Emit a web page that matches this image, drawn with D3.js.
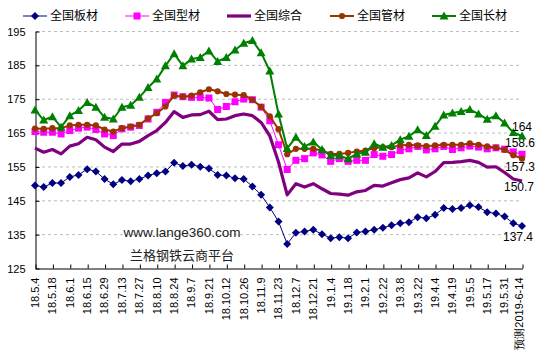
<html lang="zh">
<head>
<meta charset="utf-8">
<script src="https://cdn.jsdelivr.net/npm/d3@7"></script>
<style>
body{margin:0;background:#fff;}
#chart text{font-family:"Liberation Sans",Arial,sans-serif;}
</style>
</head>
<body>
<div id="chart"></div>
<script>
// categories (weekly), every 2nd one is labelled
const cats=["18.5.4","18.5.11","18.5.18","18.5.25","18.6.1","18.6.8","18.6.15","18.6.22","18.6.29","18.7.6",
"18.7.13","18.7.20","18.7.27","18.8.3","18.8.10","18.8.17","18.8.24","18.8.31","18.9.7","18.9.14",
"18.9.21","18.9.29","18.10.12","18.10.19","18.10.26","18.11.2","18.11.9","18.11.16","18.11.23","18.11.30",
"18.12.7","18.12.14","18.12.21","18.12.28","19.1.4","19.1.11","19.1.18","19.1.25","19.2.1","19.2.15",
"19.2.22","19.3.1","19.3.8","19.3.15","19.3.22","19.3.29","19.4.4","19.4.12","19.4.19","19.4.26",
"19.5.5","19.5.10","19.5.17","19.5.24","19.5.31","19.6.6","预测2019-6-14"]

const banCai=[149.4,148.9,150.1,150.1,151.9,152.5,154.2,153.5,151.3,149.7,151.0,150.6,151.3,152.3,153.0,153.5,156.1,155.1,155.5,154.9,154.4,152.5,152.3,151.5,151.3,149.1,146.6,142.9,138.7,132.1,135.4,135.8,136.3,135.0,133.8,134.1,133.8,135.5,135.8,136.3,136.9,137.6,138.2,138.5,140.0,139.7,140.7,142.7,142.4,142.7,143.5,143.0,141.5,141.1,140.2,138.2,137.4]
const xingCai=[165.3,165.1,165.1,164.6,165.6,166.3,166.6,165.9,164.6,164.1,166.1,166.6,167.1,169.0,171.0,173.9,176.1,175.6,175.4,175.4,175.2,171.8,172.7,174.1,174.9,174.7,172.5,168.5,161.4,154.1,156.8,157.3,159.0,158.4,156.5,157.3,156.5,156.8,156.8,158.5,158.0,158.5,159.7,160.2,160.9,159.9,160.2,160.9,160.0,160.5,161.0,160.7,160.2,160.5,160.1,159.3,158.6]
const zongHe=[160.4,159.2,160.0,158.7,161.0,161.7,163.6,162.9,160.7,159.4,161.6,161.6,162.4,164.1,165.6,168.0,171.2,169.5,170.2,170.3,171.3,168.8,169.0,170.0,170.5,170.0,168.0,164.0,156.3,146.6,149.9,148.9,149.9,148.4,147.0,146.8,146.5,147.5,147.9,149.4,149.2,150.2,151.1,151.6,153.1,151.9,153.5,156.1,156.2,156.4,156.8,156.2,154.8,154.9,153.2,151.3,150.7]
const guanCai=[166.2,166.1,166.3,166.3,167.1,167.3,167.3,167.1,165.9,165.3,166.3,166.8,167.3,169.2,170.7,172.7,175.9,175.6,175.9,176.9,177.8,177.2,176.4,176.2,176.1,174.7,172.6,169.8,166.0,158.6,160.2,160.2,160.2,159.7,158.7,158.7,159.0,159.4,159.7,160.4,160.7,160.7,161.2,161.4,161.2,161.0,161.2,161.4,161.4,161.4,161.8,161.4,160.9,160.6,159.9,158.3,157.3]
const changCai=[171.7,168.7,169.7,166.6,170.0,171.5,173.9,172.5,169.5,169.0,172.5,173.1,175.4,178.3,180.8,184.7,188.3,184.7,186.7,187.2,189.1,186.0,187.2,189.4,191.4,192.2,188.6,183.2,170.5,160.3,163.6,160.9,162.2,160.0,158.2,158.2,157.3,158.7,159.2,161.7,160.7,161.2,162.9,163.9,165.8,164.1,166.9,170.2,170.8,171.2,171.8,170.5,168.9,170.0,167.8,165.0,164.0]

const yTicks=[125,135,145,155,165,175,185,195]

const series=[
 {name:"全国板材",values:banCai,color:"#000080",width:1,marker:"diamond",lab:"137.4",lx:503,ly:237},
 {name:"全国型材",values:xingCai,color:"#ff00ff",width:1,marker:"square",lab:"158.6",lx:505,ly:143},
 {name:"全国综合",values:zongHe,color:"#800080",width:3.2,marker:null,lab:"150.7",lx:504,ly:187},
 {name:"全国管材",values:guanCai,color:"#993300",width:2,marker:"circle",lab:"157.3",lx:505,ly:167},
 {name:"全国长材",values:changCai,color:"#008000",width:2,marker:"triangle",lab:"164",lx:512,ly:127}
]

const W=543,H=361
const svg=d3.select("#chart").append("svg").attr("width",W).attr("height",H)

const x=d3.scalePoint().domain(cats).range([35,522])
const y=d3.scaleLinear().domain([125,195]).range([268,31])

// grid
svg.append("g").selectAll("line").data(yTicks.slice(1)).join("line")
 .attr("x1",36).attr("x2",522).attr("y1",d=>y(d)+0.5).attr("y2",d=>y(d)+0.5)
 .style("stroke","#bdbdbd").style("stroke-dasharray","3,3")

// axes
const yAx=svg.append("g").attr("transform","translate(35.5,0.5)")
 .call(d3.axisLeft(y).tickValues(yTicks).tickSize(-4).tickSizeOuter(0).tickPadding(10))
yAx.selectAll("text").style("font-size","11px").style("fill","#000")
yAx.selectAll("line,path").style("stroke","#000")

const xTickCats=cats.filter((d,i)=>i%2==0)
const xAx=svg.append("g").attr("transform","translate(0.5,268.5)")
 .call(d3.axisBottom(x).tickValues(xTickCats).tickSize(-4).tickSizeOuter(0))
xAx.selectAll("line,path").style("stroke","#000")
xAx.selectAll("text")
 .attr("transform","rotate(-90)").attr("x",-9).attr("y",d=>d==cats[cats.length-1]?-4:-1).attr("dy","0.35em")
 .style("text-anchor","end").style("font-size","11px").style("fill","#000")

// watermark
svg.append("text").attr("x",182).attr("y",237).attr("text-anchor","middle")
 .style("font-size","13.5px").style("fill","#222").text("www.lange360.com")
svg.append("text").attr("x",182).attr("y",260).attr("text-anchor","middle")
 .style("font-family","'Noto Sans CJK SC',sans-serif").style("font-size","13px").style("fill","#222").text("兰格钢铁云商平台")

function markerPath(type){
 if(type=="diamond")return "M0,-4L4,0L0,4L-4,0Z"
 if(type=="square")return "M-3.5,-3.5H3.5V3.5H-3.5Z"
 if(type=="triangle")return "M0,-4.5L4.5,3.5H-4.5Z"
 if(type=="circle")return d3.symbol(d3.symbolCircle,30)()
 return null
}

const line=d3.line().x((d,i)=>x(cats[i])).y(d=>y(d))

series.forEach(s=>{
 const g=svg.append("g")
 g.append("path").attr("d",line(s.values)).style("fill","none").style("stroke",s.color).style("stroke-width",s.width).style("stroke-linejoin","round")
 if(s.marker){
  g.selectAll("path.m").data(s.values).join("path").attr("class","m")
   .attr("transform",(d,i)=>"translate("+x(cats[i])+","+y(d)+")")
   .attr("d",markerPath(s.marker)).style("fill",s.color)
 }
 svg.append("text").attr("x",s.lx).attr("y",s.ly).attr("dy","0.35em").style("font-size","12px").style("fill","#000").text(s.lab)
})

// legend
const legX=[23,125,227,330,432]
series.forEach((s,i)=>{
 const g=svg.append("g").attr("transform","translate("+legX[i]+",16)")
 g.append("line").attr("x1",0).attr("x2",24).style("stroke",s.color).style("stroke-width",s.width)
 if(s.marker)g.append("path").attr("transform","translate(12,0)").attr("d",markerPath(s.marker)).style("fill",s.color)
 g.append("text").attr("x",27).attr("dy","0.35em").style("font-family","'Noto Sans CJK SC',sans-serif").style("font-size","12px").style("fill","#000").text(s.name)
})
</script>
</body>
</html>
